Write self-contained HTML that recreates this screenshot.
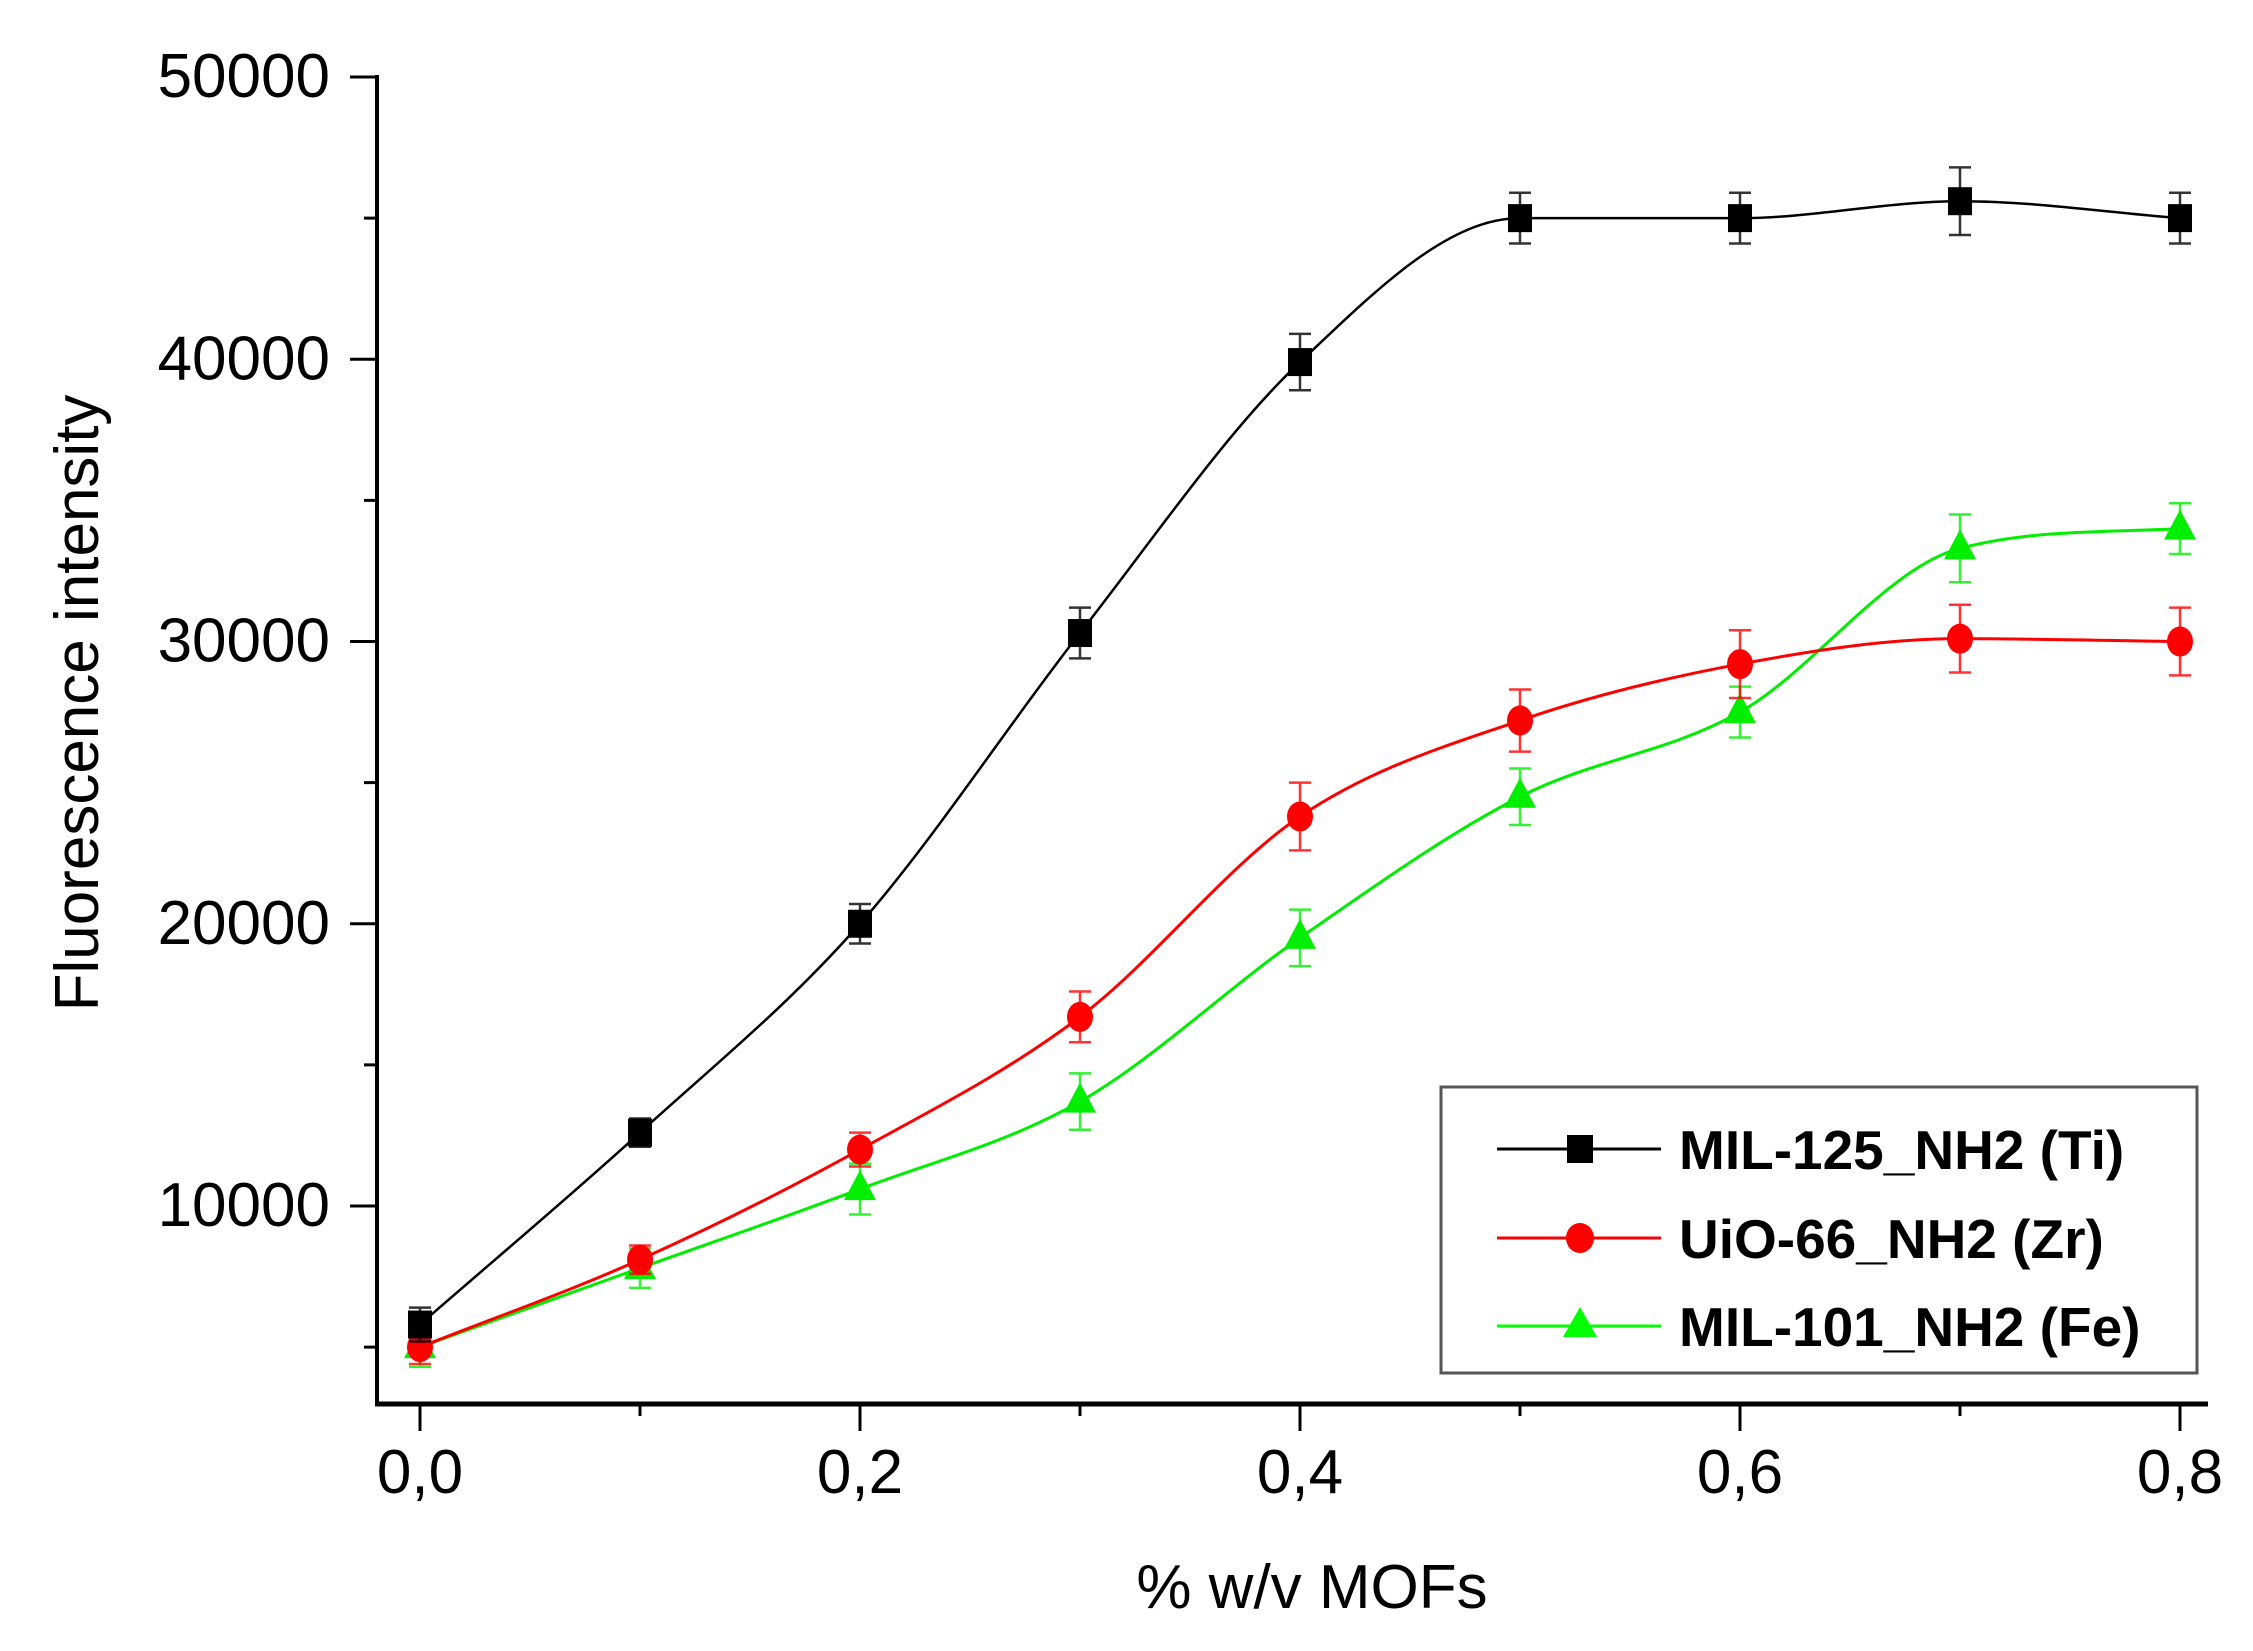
<!DOCTYPE html>
<html><head><meta charset="utf-8"><style>
html,body{margin:0;padding:0;background:#fff;}
svg{display:block;font-family:"Liberation Sans",Arial,sans-serif;}
</style></head><body>
<svg id="chart" width="2253" height="1651" viewBox="0 0 2253 1651">
<g id="axes"></g>
<g id="series"></g>
<text x="0" y="0" transform="translate(98,703) rotate(-90)" text-anchor="middle" font-size="62" fill="#000">Fluorescence intensity</text>
<text x="1312" y="1608" text-anchor="middle" font-size="62" fill="#000">% w/v MOFs</text>
<g>
<rect x="1441" y="1087" width="756" height="286" fill="#fff" stroke="#555" stroke-width="3"/>
<g>
<line x1="1497" y1="1149" x2="1661" y2="1149" stroke="#000" stroke-width="3"/>
<rect x="1567" y="1135" width="26" height="28" fill="#000"/>
<text x="1679" y="1169" font-size="55" font-weight="bold" fill="#000">MIL-125_NH2 (Ti)</text>
</g>
<g>
<line x1="1497" y1="1238" x2="1661" y2="1238" stroke="#f00" stroke-width="3"/>
<ellipse cx="1580" cy="1238" rx="14" ry="15" fill="#f00"/>
<text x="1679" y="1258" font-size="55" font-weight="bold" fill="#000">UiO-66_NH2 (Zr)</text>
</g>
<g>
<line x1="1497" y1="1326" x2="1661" y2="1326" stroke="#0f0" stroke-width="3"/>
<polygon points="1580,1307 1597,1337 1563,1337" fill="#0f0"/>
<text x="1679" y="1346" font-size="55" font-weight="bold" fill="#000">MIL-101_NH2 (Fe)</text>
</g>
</g>
</svg>
<script>
const xValues = [0, 0.1, 0.2, 0.3, 0.4, 0.5, 0.6, 0.7, 0.8];
const tiValues = [5800, 12600, 20000, 30300, 39900, 45000, 45000, 45600, 45000];
const tiErrors = [600, 500, 700, 900, 1000, 900, 900, 1200, 900];
const zrValues = [5000, 8100, 12000, 16700, 23800, 27200, 29200, 30100, 30000];
const zrErrors = [600, 500, 600, 900, 1200, 1100, 1200, 1200, 1200];
const feValues = [5000, 7800, 10600, 13700, 19500, 24500, 27500, 33300, 34000];
const feErrors = [700, 700, 900, 1000, 1000, 1000, 900, 1200, 900];
const xTicks = [0, 0.2, 0.4, 0.6, 0.8];
const xTickLabels = ["0,0", "0,2", "0,4", "0,6", "0,8"];
const yTicks = [10000, 20000, 30000, 40000, 50000];
const yTickLabels = ["10000", "20000", "30000", "40000", "50000"];

const NS = "http://www.w3.org/2000/svg";
const X0 = 420, X1 = 2180, Y0 = 1404, Ytop = 77;
function xs(v){ return X0 + v/0.8*(X1-X0); }
function ys(v){ return 1206 - (v-10000)/10000*282.25; }
function el(tag, attrs, parent){
  const e = document.createElementNS(NS, tag);
  for (const k in attrs) e.setAttribute(k, attrs[k]);
  parent.appendChild(e); return e;
}
const axes = document.getElementById('axes');
const yl = el('line', {x1:377,y1:Ytop-2,x2:377,y2:Y0+2,stroke:'#000','stroke-width':4}, axes);


const xl = el('line', {x1:375,y1:Y0,x2:2208,y2:Y0,stroke:'#000','stroke-width':5}, axes);


for (let v = 5000; v <= 50000; v += 5000) {
  const major = v % 10000 === 0;
  const t = el('line', {x1: major?350:364, y1: ys(v), x2: 377, y2: ys(v), stroke:'#000','stroke-width':3}, axes);
  
  
}
yTicks.forEach((v,i)=>{
  const t = el('text', {x:330, y: ys(v)+20, 'text-anchor':'end','font-size':62, fill:'#000'}, axes);
  t.textContent = yTickLabels[i];
  
  
});
for (let i = 0; i <= 8; i++) {
  const v = i/10;
  const major = i % 2 === 0;
  const t = el('line', {x1: xs(v), y1: Y0, x2: xs(v), y2: major?1431:1416, stroke:'#000','stroke-width':3}, axes);
  
  
}
xTicks.forEach((v,i)=>{
  const t = el('text', {x: xs(v), y: 1493, 'text-anchor':'middle','font-size':62, fill:'#000'}, axes);
  t.textContent = xTickLabels[i];
  
  
});

// monotone cubic (Fritsch-Carlson)
function smoothPath(pts){
  const n = pts.length, d = [], m = [];
  for (let i = 0; i < n-1; i++) d.push((pts[i+1][1]-pts[i][1])/(pts[i+1][0]-pts[i][0]));
  m[0] = d[0]; m[n-1] = d[n-2];
  for (let i = 1; i < n-1; i++) m[i] = (d[i-1]*d[i] <= 0) ? 0 : (d[i-1]+d[i])/2;
  for (let i = 0; i < n-1; i++) {
    if (d[i] === 0) { m[i] = 0; m[i+1] = 0; continue; }
    const a = m[i]/d[i], b = m[i+1]/d[i], s = a*a+b*b;
    if (s > 9) { const t = 3/Math.sqrt(s); m[i] = t*a*d[i]; m[i+1] = t*b*d[i]; }
  }
  let path = `M${pts[0][0]},${pts[0][1]}`;
  for (let i = 0; i < n-1; i++) {
    const h = (pts[i+1][0]-pts[i][0])/3;
    path += ` C${pts[i][0]+h},${pts[i][1]+m[i]*h} ${pts[i+1][0]-h},${pts[i+1][1]-m[i+1]*h} ${pts[i+1][0]},${pts[i+1][1]}`;
  }
  return path;
}
const seriesG = document.getElementById('series');
function drawSeries(name, vals, errs, color, lw, marker){
  const g = el('g', {}, seriesG);
  
  
  const pts = vals.map((v,i)=>[xs(xValues[i]), ys(v)]);
  const p = el('path', {d: smoothPath(pts), fill:'none', stroke:color,'stroke-width':lw}, g);
  
  
  vals.forEach((v,i)=>{
    const x = xs(xValues[i]), yt = ys(v+errs[i]), yb = ys(v-errs[i]);
    const eb = el('path', {d:`M${x},${yt}V${yb}M${x-11},${yt}H${x+11}M${x-11},${yb}H${x+11}`, stroke:color, 'stroke-width':2.5, fill:'none', opacity:0.8}, g);
    
    
    const y = ys(v);
    let m;
    if (marker === 'square') m = el('rect', {x:x-12, y:y-14, width:24, height:28, fill:color}, g);
    else if (marker === 'circle') m = el('ellipse', {cx:x, cy:y, rx:13, ry:15, fill:color}, g);
    else m = el('polygon', {points:`${x},${y-19} ${x+16},${y+11} ${x-16},${y+11}`, fill:color}, g);
    
    
  });
}
drawSeries('series-fe', feValues, feErrors, '#00ee00', 3, 'triangle');
drawSeries('series-zr', zrValues, zrErrors, '#ff0000', 3, 'circle');
drawSeries('series-ti', tiValues, tiErrors, '#000000', 2.5, 'square');
</script>
</body></html>
